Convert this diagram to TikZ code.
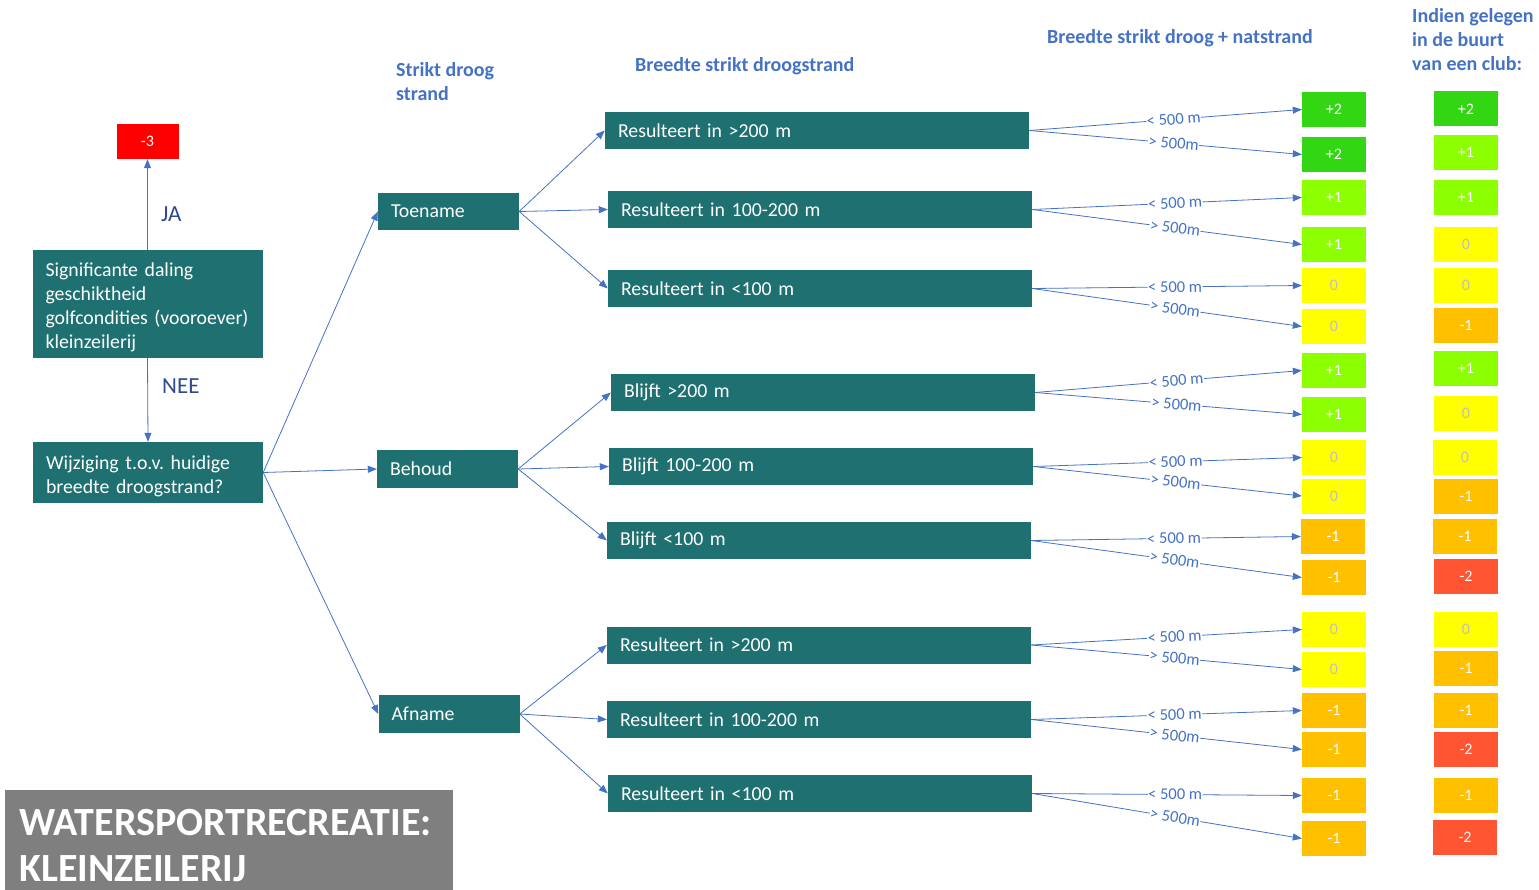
\documentclass[tikz,border=0pt]{standalone}
\usepackage{fontspec}
\setmainfont{Carlito}
\usetikzlibrary{arrows.meta}
\definecolor{boxteal}{RGB}{31,112,112}
\definecolor{linkblue}{RGB}{68,114,196}
\definecolor{navy}{RGB}{46,74,140}
\definecolor{scgreen}{RGB}{51,214,19}
\definecolor{sclime}{RGB}{140,255,0}
\definecolor{scyellow}{RGB}{255,255,0}
\definecolor{scorange}{RGB}{255,192,0}
\definecolor{scred}{RGB}{255,85,51}
\definecolor{titlegray}{RGB}{127,127,127}
\newcommand{\fs}[2]{\fontsize{#1}{#2}\selectfont}
\frenchspacing

\begin{document}
\begin{tikzpicture}[
      x=1pt, y=-1pt,
      every node/.style={font=\fs{19.8}{24}},
      box/.style={fill=boxteal, text=white, inner xsep=13pt, inner ysep=2pt, align=left, minimum height=37pt},
      wide/.style={box, text width=398pt},
      short/.style={box, text width=115pt},
      header/.style={anchor=west, inner sep=0pt, align=left, text=linkblue, font=\fs{20}{24}\bfseries},
      score/.style={minimum width=64pt, minimum height=35pt, inner sep=0pt, text=white, font=\fs{16}{19}},
      p2/.style={score, fill=scgreen},
      p1/.style={score, fill=sclime},
      nul/.style={score, fill=scyellow, text=black!25},
      m1/.style={score, fill=scorange},
      m2/.style={score, fill=scred},
      link/.style={draw=linkblue, line width=0.8pt, -{Triangle[length=9pt,width=7pt]}},
      lab/.style={pos=0.53, sloped, fill=white, inner sep=0.5pt, text=linkblue, font=\fs{16.5}{19}}
    ]
      \useasboundingbox (0,0) rectangle (1539,890);

      % headers
      \node[header] (hdroog) at (396,82) {Strikt droog\\strand};
      \node[header] (hbreedte) at (635,66) {Breedte strikt droogstrand};
      \node[header] (hnat) at (1047,38) {Breedte strikt droog + natstrand};
      \node[header] (hclub) at (1412,40) {Indien gelegen\\in de buurt\\van een club:};

      % left part
      \node[score, fill=red, minimum width=62pt] (min3) at (147.5,141.5) {-3};
      \node[box, text width=204pt, minimum height=108pt, inner ysep=0pt] (sig) at (147.5,304)
        {\mbox{}\\[-4pt]Significante daling\\geschiktheid\\golfcondities (vooroever)\\kleinzeilerij};
      \node[box, text width=204pt, minimum height=61pt, inner ysep=0pt] (wijz) at (148,472.5)
        {\mbox{}\\[-2pt]Wijziging t.o.v. huidige\\breedte droogstrand?};
      \draw[link] (sig.north) -- (min3.south);
      \draw[link] (sig.south) -- (wijz.north);
      \node[anchor=west, inner sep=0pt, text=navy, font=\fs{23}{26}] (ja) at (161,214) {JA};
      \node[anchor=west, inner sep=0pt, text=navy, font=\fs{23}{26}] (nee) at (162,386) {NEE};

      % strikt droog strand
      \node[short] (toename) at (448.5,211.5) {Toename};
      \node[short, minimum height=38pt] (behoud) at (447.5,469) {Behoud};
      \node[short, minimum height=38pt] (afname) at (449,714) {Afname};
      \draw[link] (wijz.east) -- (toename.west);
      \draw[link] (wijz.east) -- (behoud.west);
      \draw[link] (wijz.east) -- (afname.west);

      % breedte strikt droogstrand
      \node[wide] (t1) at (817,130.5) {Resulteert in >200 m};
      \node[wide] (t2) at (820,209.5) {Resulteert in 100-200 m};
      \node[wide] (t3) at (820,288.5) {Resulteert in <100 m};
      \node[wide] (b1) at (823,392.5) {Blijft >200 m};
      \node[wide] (b2) at (821,466.5) {Blijft 100-200 m};
      \node[wide] (b3) at (819,540.5) {Blijft <100 m};
      \node[wide] (a1) at (819,645) {Resulteert in >200 m};
      \node[wide] (a2) at (819,719.5) {Resulteert in 100-200 m};
      \node[wide] (a3) at (820,793.5) {Resulteert in <100 m};
      \draw[link] (toename.east) -- (t1.west);
      \draw[link] (toename.east) -- (t2.west);
      \draw[link] (toename.east) -- (t3.west);
      \draw[link] (behoud.east) -- (b1.west);
      \draw[link] (behoud.east) -- (b2.west);
      \draw[link] (behoud.east) -- (b3.west);
      \draw[link] (afname.east) -- (a1.west);
      \draw[link] (afname.east) -- (a2.west);
      \draw[link] (afname.east) -- (a3.west);

      % scores droog + natstrand
      \node[p2] (s1) at (1334,109.5) {+2};
      \node[p2] (s2) at (1334,154.5) {+2};
      \node[p1] (s3) at (1334,197.5) {+1};
      \node[p1] (s4) at (1334,244.5) {+1};
      \node[nul] (s5) at (1334,285.5) {0};
      \node[nul] (s6) at (1334,326.5) {0};
      \node[p1] (s7) at (1334,370.5) {+1};
      \node[p1] (s8) at (1334,414.5) {+1};
      \node[nul] (s9) at (1334,457.5) {0};
      \node[nul] (s10) at (1334,496) {0};
      \node[m1] (s11) at (1333,536.5) {-1};
      \node[m1] (s12) at (1334,577.5) {-1};
      \node[nul] (s13) at (1334,629.5) {0};
      \node[nul] (s14) at (1334,669.5) {0};
      \node[m1] (s15) at (1334,710.5) {-1};
      \node[m1] (s16) at (1334,749.5) {-1};
      \node[m1] (s17) at (1334,795.5) {-1};
      \node[m1] (s18) at (1334,838.5) {-1};

      % scores in de buurt van een club
      \node[p2] (c1) at (1466,109) {+2};
      \node[p1] (c2) at (1466,152.5) {+1};
      \node[p1] (c3) at (1466,197.5) {+1};
      \node[nul] (c4) at (1466,244.5) {0};
      \node[nul] (c5) at (1466,285.5) {0};
      \node[m1] (c6) at (1466,325.5) {-1};
      \node[p1] (c7) at (1466,368.5) {+1};
      \node[nul] (c8) at (1466,413.5) {0};
      \node[nul] (c9) at (1465,457.5) {0};
      \node[m1] (c10) at (1466,496) {-1};
      \node[m1] (c11) at (1465,536.5) {-1};
      \node[m2] (c12) at (1466,576.5) {-2};
      \node[nul] (c13) at (1466,629.5) {0};
      \node[m1] (c14) at (1466,668.5) {-1};
      \node[m1] (c15) at (1466,710.5) {-1};
      \node[m2] (c16) at (1466,749.5) {-2};
      \node[m1] (c17) at (1466,795.5) {-1};
      \node[m2] (c18) at (1465,837.5) {-2};

      % breedte strikt droog + natstrand
      \draw[link] (t1.east) -- node[lab] {< 500 m} (s1.west);
      \draw[link] (t1.east) -- node[lab] {> 500m} (s2.west);
      \draw[link] (t2.east) -- node[lab] {< 500 m} (s3.west);
      \draw[link] (t2.east) -- node[lab] {> 500m} (s4.west);
      \draw[link] (t3.east) -- node[lab] {< 500 m} (s5.west);
      \draw[link] (t3.east) -- node[lab] {> 500m} (s6.west);
      \draw[link] (b1.east) -- node[lab] {< 500 m} (s7.west);
      \draw[link] (b1.east) -- node[lab] {> 500m} (s8.west);
      \draw[link] (b2.east) -- node[lab] {< 500 m} (s9.west);
      \draw[link] (b2.east) -- node[lab] {> 500m} (s10.west);
      \draw[link] (b3.east) -- node[lab] {< 500 m} (s11.west);
      \draw[link] (b3.east) -- node[lab] {> 500m} (s12.west);
      \draw[link] (a1.east) -- node[lab] {< 500 m} (s13.west);
      \draw[link] (a1.east) -- node[lab] {> 500m} (s14.west);
      \draw[link] (a2.east) -- node[lab] {< 500 m} (s15.west);
      \draw[link] (a2.east) -- node[lab] {> 500m} (s16.west);
      \draw[link] (a3.east) -- node[lab] {< 500 m} (s17.west);
      \draw[link] (a3.east) -- node[lab] {> 500m} (s18.west);

      % title
      \node[fill=titlegray, text=white, anchor=north west, text width=420pt, inner xsep=14pt,
        inner ysep=19pt, align=left, font=\fs{40}{46}\bfseries] (title) at (5,790)
        {WATERSPORTRECREATIE:\\KLEINZEILERIJ};
\end{tikzpicture}
\end{document}
